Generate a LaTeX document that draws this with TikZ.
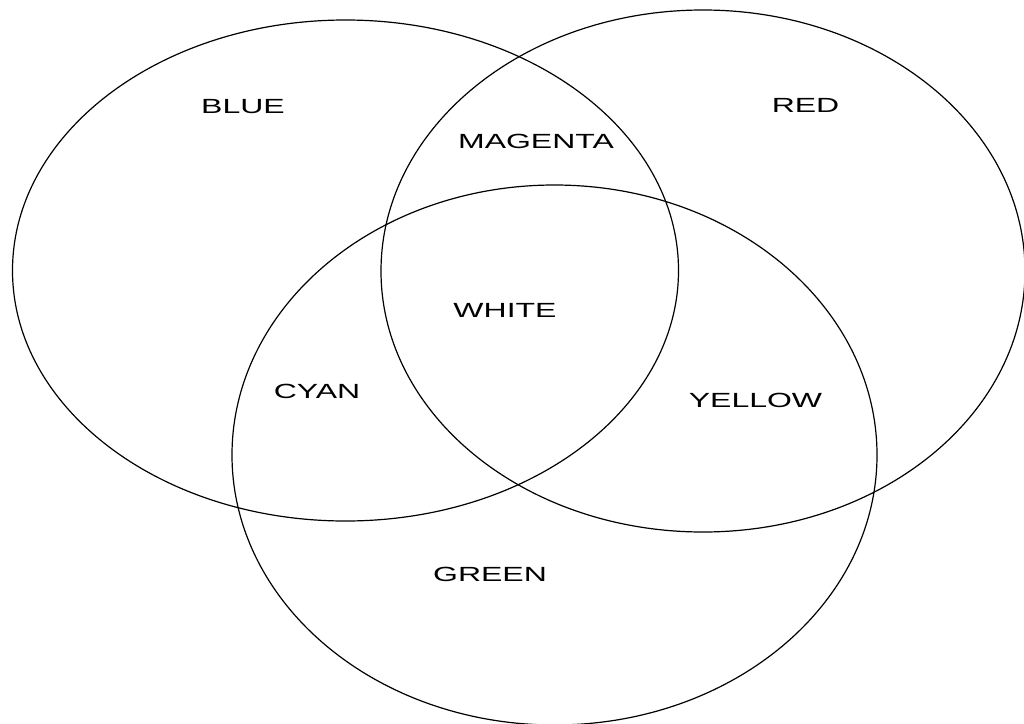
\documentclass[tikz,border=0pt]{standalone}
\usepackage{fontspec}
\setmainfont{Liberation Sans}
\begin{document}
\begin{tikzpicture}[x=1pt,y=-1pt,
  ring/.style={draw=black,line width=1.2pt},
  lbl/.style={anchor=base,inner sep=0pt,font=\fontsize{20.5}{24}\selectfont,xscale=1.56}]
\useasboundingbox (0,0) rectangle (1024,723);
\draw[ring] (345.5,270.5) ellipse [x radius=333, y radius=250.5];
\draw[ring] (703,271) ellipse [x radius=322, y radius=261];
\draw[ring] (554.5,455) ellipse [x radius=322.5, y radius=270];
\node[lbl] (blue) at (243,113) {BLUE};
\node[lbl] (red) at (805.5,112) {RED};
\node[lbl] (magenta) at (536,148) {MAGENTA};
\node[lbl] (white) at (505,317) {WHITE};
\node[lbl] (cyan) at (317,398) {CYAN};
\node[lbl] (yellow) at (755.5,407) {YELLOW};
\node[lbl] (green) at (490,581) {GREEN};
\end{tikzpicture}
\end{document}
